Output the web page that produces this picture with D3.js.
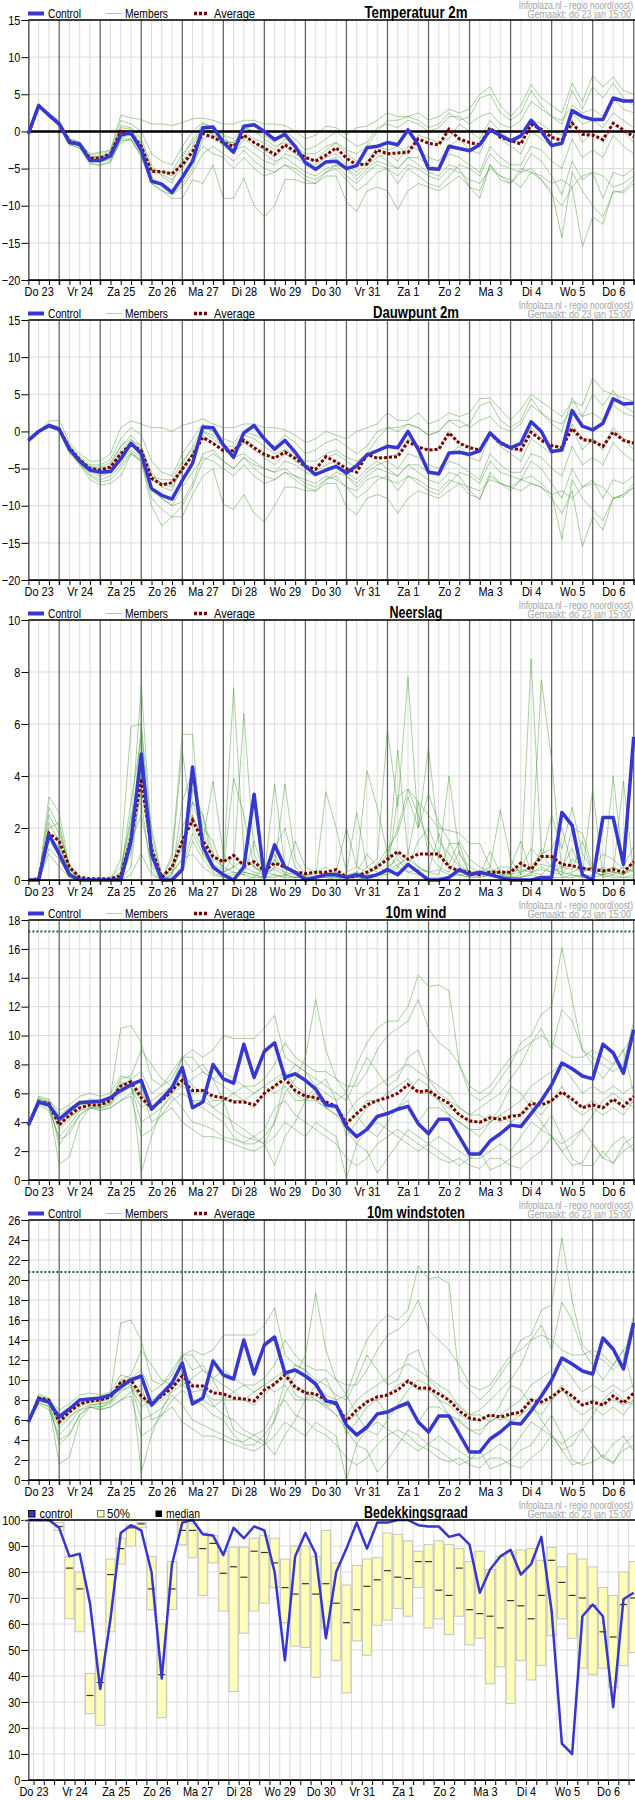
<!DOCTYPE html>
<html>
<head>
<meta charset="utf-8">
<script src="https://cdn.jsdelivr.net/npm/d3@7"></script>
<style>
  body { margin: 0; background: #fff; }
  svg { display: block; }
</style>
</head>
<body>
<div id="chart"></div>
<script>
// day labels (one per day, placed at noon)
var days = ["Do 23", "Vr 24", "Za 25", "Zo 26", "Ma 27", "Di 28", "Wo 29", "Do 30",
  "Vr 31", "Za 1", "Zo 2", "Ma 3", "Di 4", "Wo 5", "Do 6"];

// ---- Temperatuur 2m (6-hourly, first point Do 23 06:00) ----
var tempControl = [-0.3,3.5,2.2,1.0, -1.5,-1.7,-3.9,-3.9, -3.3,-0.5,-0.2,-2.5, -6.7,-7.1,-8.2,-6.2,
  -4.0,0.5,0.6,-1.5, -2.8,0.7,0.9,0.0, -1.1,-0.4,-2.0,-4.2, -5.1,-4.1,-4.0,-5.0,
  -4.6,-2.2,-2.0,-1.5, -1.8,0.2,-1.8,-5.0, -5.1,-2.0,-2.3,-2.6, -1.8,0.2,-0.5,-1.3,
  -0.6,1.5,0.0,-1.9, -1.6,2.8,2.0,1.6, 1.6,4.5,4.1,4.1];
var tempAverage = [-0.3,3.4,2.2,1.0, -1.3,-1.8,-3.6,-3.6, -3.0,0.0,-0.3,-2.0, -5.4,-5.4,-5.7,-4.5,
  -2.7,-0.3,-0.8,-1.5, -2.0,-0.5,-1.5,-2.2, -3.1,-1.8,-2.7,-3.5, -4.0,-3.2,-2.2,-3.6,
  -4.5,-4.4,-2.5,-3.0, -2.9,-2.8,-1.0,-1.6, -1.8,0.3,-1.0,-1.5, -1.8,0.5,-0.8,-1.2,
  -1.7,0.9,0.3,-0.8, -1.2,1.1,-0.4,-0.5, -1.1,1.1,0.2,-0.7];
var tempMembers = [
  [-0.3,3.5,2.0,1.2, -1.2,-2.0,-3.8,-4.2, -3.5,-0.8,-0.5,-2.5, -6.0,-7.5,-8.5,-7.0, -5.0,-1.0,-0.5,-2.0, -3.0,-1.0,-2.0,-3.0, -4.0,-3.5,-4.5,-5.5, -6.0,-5.0,-4.5,-6.0, -7.0,-5.5,-4.5,-5.0, -6.0,-4.5,-5.0,-6.0, -6.5,-5.0,-5.5,-6.5, -7.0,-5.0,-6.0,-6.5, -7.5,-5.5,-6.5,-8.5, -10.0,-7.5,-15.5,-11.5, -12.5,-8.0,-8.3,-7.0],
  [-0.3,3.4,2.3,1.0, -1.5,-1.6,-3.5,-3.3, -2.8,0.5,0.3,-1.5, -5.0,-5.5,-6.0,-4.0, -2.0,0.5,0.0,-1.0, -2.0,-0.5,-1.5,-2.5, -3.5,-2.0,-3.0,-4.0, -4.5,-3.5,-3.0,-4.5, -5.5,-4.0,-3.0,-4.0, -5.0,-3.5,-4.5,-5.5, -6.0,-4.5,-5.0,-7.5, -9.0,-4.5,-6.5,-7.0, -5.5,-5.0,-6.5,-8.0, -14.3,-5.5,-8.0,-10.0, -11.5,-8.2,-8.0,-6.5],
  [-0.3,3.6,2.5,1.5, -1.0,-1.5,-3.0,-2.8, -2.5,2.2,1.8,1.6, 1.0,1.0,0.8,1.2, 1.7,1.8,1.5,1.0, 1.0,1.5,1.5,1.0, 1.0,0.8,0.0,-1.0, -0.5,0.7,0.5,-0.5, 0.5,0.7,1.5,2.5, 2.0,2.0,2.5,1.5, 2.0,3.0,2.5,3.0, 5.0,6.0,3.5,2.0, 3.5,6.3,4.5,3.5, 2.5,6.5,4.0,7.5, 6.0,7.3,5.5,5.0],
  [-0.3,3.5,2.2,1.1, -1.8,-2.2,-4.2,-4.5, -4.0,-1.0,-1.0,-3.5, -7.0,-8.0,-9.0,-9.0, -6.5,-7.0,-4.5,-9.0, -9.0,-6.3,-10.0,-11.5, -10.0,-6.5,-6.5,-7.0, -7.0,-6.0,-6.0,-9.5, -10.8,-8.0,-7.5,-8.0, -10.5,-8.0,-7.0,-7.5, -8.0,-7.0,-6.0,-7.5, -8.0,-4.5,-6.0,-7.0, -5.0,-5.5,-6.0,-7.0, -6.5,-7.5,-6.0,-5.5, -6.0,-7.5,-7.0,-6.0],
  [-0.3,3.4,2.1,0.8, -1.4,-1.9,-3.7,-3.8, -3.2,-0.2,-0.5,-2.2, -5.5,-5.8,-6.5,-5.0, -3.0,0.0,-0.3,-1.2, -1.5,0.0,-1.0,-1.5, -2.5,-1.0,-2.0,-3.5, -4.0,-2.5,-1.5,-3.0, -4.0,-4.5,-2.0,-2.5, -2.0,-3.0,-0.5,-1.0, -1.5,-1.0,1.0,0.0, -1.0,1.5,0.0,-1.0, -1.5,1.5,1.0,0.0, -0.5,2.5,1.0,1.5, 0.5,2.5,1.5,0.5],
  [-0.3,3.5,2.4,1.3, -1.0,-1.4,-3.2,-3.0, -2.6,1.5,1.0,0.0, -3.0,-4.0,-4.5,-2.0, 0.0,1.2,0.5,-0.5, -1.0,0.5,0.0,-0.5, -1.5,0.0,-1.0,-2.5, -2.0,-1.0,0.0,-1.0, -2.0,-1.5,0.5,1.0, 0.5,1.5,1.0,0.0, 0.5,2.0,2.0,1.0, 2.0,2.5,1.0,0.5, 1.5,4.0,3.0,2.0, 1.5,3.5,2.5,3.0, 2.0,4.5,3.0,2.5],
  [-0.3,3.5,2.0,0.9, -1.6,-2.0,-4.0,-4.0, -3.8,-1.5,-1.0,-3.0, -6.5,-7.0,-8.0,-6.0, -4.0,-2.0,-3.0,-3.5, -5.0,-3.5,-5.0,-6.0, -5.5,-4.5,-5.5,-6.5, -7.0,-5.5,-5.0,-6.5, -8.0,-7.0,-5.5,-5.0, -7.0,-5.0,-6.0,-7.0, -7.5,-6.0,-4.5,-5.0, -6.0,-3.0,-4.5,-5.0, -5.5,-3.0,-4.0,-6.0, -8.5,-4.0,-6.5,-5.5, -9.0,-5.5,-6.0,-5.0],
  [-0.3,3.5,2.2,1.0, -1.3,-1.7,-3.6,-3.5, -3.0,0.8,0.5,-1.0, -4.5,-6.0,-7.0,-3.5, -1.0,1.0,0.5,-0.5, -2.5,-2.0,-3.0,-4.0, -4.5,-3.0,-3.5,-4.5, -5.0,-4.0,-3.5,-5.0, -6.0,-4.5,-3.5,-3.0, -4.0,-2.0,-2.5,-3.5, -4.0,-2.0,-1.0,-2.5, -3.0,0.5,-1.0,-2.0, -3.0,0.0,-1.0,-2.0, -1.0,1.5,-1.5,0.0, -1.5,1.0,0.0,-1.5],
  [-0.3,3.6,2.3,1.2, -1.2,-1.6,-3.4,-3.4, -2.9,0.2,0.0,-1.8, -5.0,-5.5,-5.5,-3.0, -1.5,0.5,-0.5,-1.5, -1.5,0.5,0.0,-1.0, -2.0,-1.5,-2.0,-3.0, -3.0,-2.0,-1.5,-2.5, -3.0,-2.0,0.0,1.5, 1.5,2.0,1.5,0.5, 1.0,2.5,1.5,2.0, 4.5,5.0,2.5,1.5, 2.5,5.5,3.5,2.0, 1.0,5.5,3.0,6.0, 4.5,6.5,4.5,3.5],
  [-0.3,3.4,1.9,0.7, -1.7,-2.3,-4.4,-4.6, -4.2,-1.2,-1.2,-3.2, -7.0,-8.0,-8.5,-7.5, -5.5,-3.0,-2.0,-3.0, -4.0,-2.5,-4.0,-5.0, -5.5,-4.5,-5.0,-6.0, -6.5,-5.5,-4.5,-5.0, -6.5,-5.0,-4.0,-4.5, -5.0,-3.5,-3.5,-4.5, -5.0,-3.0,-3.5,-4.5, -5.5,-2.0,-3.5,-4.5, -4.5,-2.0,-2.5,-4.0, -5.0,-1.0,-3.5,-2.5, -3.5,-0.5,-2.0,-3.0]
];

// ---- Dauwpunt 2m ----
var dewControl = [-1.2,0.0,0.8,0.3, -2.4,-4.0,-5.2,-5.5, -5.4,-3.7,-1.6,-3.0, -7.7,-8.6,-9.1,-6.6,
  -4.3,0.6,0.5,-1.8, -3.5,-0.2,0.8,-1.0, -2.4,-1.2,-2.8,-4.7, -5.8,-5.2,-4.7,-5.6,
  -4.6,-3.2,-2.6,-2.0, -2.2,0.0,-2.4,-5.5, -5.7,-2.9,-2.8,-3.1, -2.6,-0.2,-1.5,-2.2,
  -1.6,1.3,0.0,-2.7, -2.5,2.8,0.7,0.2, 1.1,4.4,3.7,3.8];
var dewAverage = [-1.2,0.0,0.8,0.3, -2.2,-3.8,-5.0,-5.2, -4.8,-3.0,-1.7,-2.6, -6.3,-7.2,-6.9,-5.1,
  -3.2,-0.8,-1.6,-2.6, -2.6,-1.2,-2.2,-3.1, -3.6,-2.8,-3.6,-4.7, -5.1,-3.4,-4.1,-5.0,
  -5.5,-3.1,-3.6,-3.5, -3.4,-1.4,-2.1,-2.5, -2.4,-0.2,-1.6,-2.2, -2.5,-0.2,-1.6,-2.2,
  -2.5,-0.1,-1.2,-1.9, -2.2,0.4,-1.1,-1.3, -2.0,-0.1,-1.2,-1.6];
var dewMembers = [
  [-1.2,0,0.6,0.2, -2.5,-4.2,-5.5,-6.0, -5.5,-4.0,-2.5,-3.5, -7.5,-9.0,-10.0,-9.5, -7.0,-3.0,-2.5,-4.0, -5.0,-3.5,-4.5,-5.0, -5.5,-5.0,-6.0,-6.5, -7.0,-6.0,-6.5,-7.5, -8.0,-6.5,-6.0,-6.5, -7.0,-6.0,-6.5,-7.5, -8.0,-6.5,-7.0,-7.5, -8.0,-6.5,-7.0,-7.5, -8.0,-7.0,-7.5,-9.0, -11.0,-8.0,-15.5,-11.5, -13.3,-9.0,-8.8,-7.5],
  [-1.2,0,0.9,0.5, -2.0,-3.6,-4.8,-5.0, -4.5,-2.0,-1.0,-2.5, -6.0,-7.0,-7.5,-5.0, -3.0,0.0,-0.5,-2.0, -3.0,-1.5,-2.5,-3.5, -4.5,-3.0,-4.0,-5.0, -5.5,-4.5,-4.0,-5.5, -6.5,-5.0,-4.0,-5.0, -6.0,-4.5,-5.5,-6.5, -7.0,-5.5,-6.0,-8.0, -9.2,-5.5,-7.0,-7.5, -6.5,-6.0,-7.0,-8.5, -14.5,-6.5,-9.0,-10.5, -12.0,-9.0,-8.5,-7.0],
  [-1.2,0,1.4,1.5, -1.5,-3.0,-4.0,-4.0, -3.0,0.5,1.4,1.0, 0.5,0.5,0.0,0.8, 1.2,1.7,1.0,0.5, 0.5,1.0,1.0,0.5, 0.5,0.2,-0.5,-1.5, -1.0,0.0,-0.5,-1.0, 0.0,0.5,1.0,2.5, 1.5,1.5,2.5,1.0, 1.5,2.5,2.0,2.5, 4.4,4.5,3.0,1.5, 3.0,5.0,4.0,3.0, 2.0,4.0,3.5,7.2, 5.5,5.0,4.5,4.0],
  [-1.2,0,0.5,0.0, -3.0,-4.5,-6.5,-7.2, -7.0,-6.0,-3.0,-4.0, -10.0,-12.7,-11.5,-11.5, -8.5,-6.0,-5.0,-9.8, -10.5,-8.5,-11.0,-12.2, -10.0,-7.5,-7.5,-8.0, -8.0,-7.0,-7.0,-10.2, -11.2,-9.0,-8.5,-9.0, -11.0,-9.0,-8.0,-8.5, -9.0,-8.0,-7.0,-8.5, -9.0,-6.0,-7.0,-8.0, -6.5,-7.0,-7.5,-8.5, -8.0,-9.0,-7.5,-7.0, -7.5,-9.0,-8.5,-7.5],
  [-1.2,0,0.8,0.3, -2.2,-3.8,-5.0,-5.2, -4.8,-3.0,-1.5,-2.6, -6.5,-7.0,-7.0,-5.0, -3.0,-0.5,-1.5,-2.5, -2.5,-1.0,-2.0,-3.0, -3.5,-2.5,-3.5,-4.5, -5.0,-3.5,-3.0,-4.0, -5.0,-3.0,-3.5,-3.5, -3.0,-1.0,-2.0,-2.5, -2.5,0.0,-1.5,-2.0, -2.5,0.0,-1.5,-2.5, -2.5,0.5,-1.0,-2.0, -2.0,1.0,-1.0,-1.0, -2.0,0.5,-1.0,-1.5],
  [-1.2,0,1.0,0.6, -1.8,-3.4,-4.5,-4.5, -3.8,-1.0,0.5,-0.5, -4.0,-5.5,-6.0,-3.0, -1.0,1.0,0.0,-1.0, -1.5,0.0,-0.5,-1.0, -2.0,-0.5,-1.5,-3.0, -2.5,-1.5,-1.0,-2.0, -3.0,-2.0,0.0,0.5, 0.0,1.0,0.5,-0.5, 0.0,1.5,1.5,0.5, 1.5,2.0,0.5,0.0, 1.0,3.5,2.5,1.5, 1.0,3.0,2.0,2.5, 1.5,3.5,2.5,2.0],
  [-1.2,0,0.6,0.1, -2.6,-4.3,-5.8,-6.5, -6.0,-4.5,-2.8,-3.8, -8.0,-9.0,-10.0,-7.5, -5.5,-3.5,-4.0,-5.0, -6.0,-4.5,-6.0,-7.0, -6.5,-5.5,-6.5,-7.5, -8.0,-6.5,-6.0,-7.5, -9.0,-8.0,-6.5,-6.0, -8.0,-6.0,-7.0,-8.0, -8.5,-7.0,-5.5,-6.0, -7.0,-4.0,-5.5,-6.0, -6.5,-4.0,-5.0,-7.0, -9.0,-5.0,-7.5,-6.5, -9.0,-6.5,-7.0,-6.0],
  [-1.2,0,0.7,0.3, -2.3,-3.9,-5.1,-5.5, -5.0,-2.5,-1.2,-2.0, -5.5,-7.5,-8.0,-4.5, -2.0,0.5,0.0,-1.5, -3.5,-3.0,-4.0,-5.0, -5.5,-4.0,-4.5,-5.5, -6.0,-5.0,-4.5,-6.0, -7.0,-5.5,-4.5,-4.0, -5.0,-3.0,-3.5,-4.5, -5.0,-3.0,-2.0,-3.5, -4.0,-0.5,-2.0,-3.0, -4.0,-1.0,-2.0,-3.0, -2.0,0.5,-2.5,-1.0, -2.5,0.0,-1.0,-2.5],
  [-1.2,0,0.9,0.4, -2.1,-3.7,-4.7,-4.8, -4.2,-2.0,-0.5,-2.0, -6.0,-6.5,-6.5,-4.0, -2.5,0.0,-1.0,-2.0, -2.0,-0.5,-1.0,-2.0, -3.0,-2.5,-3.0,-4.0, -4.0,-3.0,-2.5,-3.5, -4.0,-3.0,-1.0,0.5, 0.5,1.0,0.5,-0.5, 0.0,1.5,0.5,1.0, 3.5,4.0,1.5,0.5, 1.5,4.5,2.5,1.0, 0.0,4.5,2.0,5.0, 3.5,5.5,3.5,2.5],
  [-1.2,0,0.6,0.1, -2.7,-4.4,-6.0,-6.8, -6.5,-5.0,-3.0,-4.0, -9.0,-10.5,-11.5,-10.0, -7.5,-4.0,-3.0,-4.0, -5.0,-3.5,-5.0,-6.0, -6.5,-5.5,-6.0,-7.0, -7.5,-6.5,-5.5,-6.0, -7.5,-6.0,-5.0,-5.5, -6.0,-4.5,-4.5,-5.5, -6.0,-4.0,-4.5,-5.5, -6.5,-3.0,-4.5,-5.5, -5.5,-3.0,-3.5,-5.0, -6.0,-2.0,-4.5,-3.5, -4.5,-1.5,-3.0,-4.0]
];

// ---- Neerslag (mm per 6 h) ----
var rainControl = [0,0,1.75,1.0, 0.2,0,0,0, 0,0,1.5,4.85, 1.0,0,0,0.4, 4.35,1.3,0.5,0.2,
  0,0.5,3.3,0.1, 1.35,0.5,0.3,0, 0.1,0.2,0.2,0.1, 0.2,0.1,0.2,0.4, 0.2,0.6,0.3,0,
  0,0.1,0.4,0.2, 0.3,0.2,0.1,0, 0,0,0.1,0.1, 2.6,2.1,0.2,0, 2.4,2.4,0.6,5.5];
var rainAverage = [0,0.05,1.8,1.5, 0.5,0.1,0.05,0.05, 0.05,0.15,1.6,3.9, 1.2,0.1,0.5,1.5,
  2.3,1.5,0.9,0.7, 0.95,0.55,0.7,0.35, 0.65,0.5,0.3,0.25, 0.3,0.3,0.4,0.1,
  0.15,0.3,0.5,0.8, 1.1,0.8,1.0,1.0, 1.0,0.5,0.35,0.3, 0.2,0.3,0.3,0.3,
  0.65,0.4,0.9,0.9, 0.6,0.55,0.45,0.4, 0.35,0.4,0.3,0.7];
var rainMembers = [
  [0,0,3.2,2.6, 0.5,0,0,0, 0,0.2,2.0,7.5, 1.5,0,0.5,2.0, 3.0,2.5,1.0,0.5, 7.4,1.0,0.5,0.2, 0.5,0.3,0.2,0.1, 0.1,0.2,0.3,0.1, 0,0.2,0.5,1.0, 2.0,3.5,3.0,2.5, 2.0,1.9,1.8,1.4, 1.4,0.5,0.2,0.1, 0.1,0.3,0.5,0.3, 0.2,0.8,0.5,0.3, 0.2,0.3,0.2,0.5],
  [0,0,2.2,1.5, 0.3,0,0,0, 0,0.8,5.9,6.0, 0.5,0,1.0,5.6, 5.6,1.0,0.5,0.3, 0.5,6.4,1.0,0.2, 3.7,0.5,0.2,0.1, 0.1,0.3,0.2,0.1, 0.1,0.5,0.8,5.8, 2.8,7.8,2.0,5.1, 1.5,1.0,0.5,0.3, 0.2,0.3,0.1,0.1, 0.2,8.5,1.0,0.5, 0.2,0.3,0.5,0.4, 0.1,4.0,0.5,0.3],
  [0,0,1.2,0.8, 0.1,0,0,0, 0,0.1,1.0,3.5, 1.0,0,0.2,1.5, 2.5,1.5,3.8,1.0, 0.5,0.3,0.2,0.1, 0.5,3.7,0.8,0.2, 0.1,3.4,2.0,0.3, 0.5,4.2,2.8,1.0, 0.5,1.0,0.5,0.3, 1.8,0.5,0.2,0.1, 0.3,0.5,2.7,0.8, 0.2,0.5,7.7,4.6, 0.3,0.2,0.1,0.2, 0.5,0.3,3.8,0.2],
  [0,0,2.0,2.2, 0.4,0.1,0,0, 0,0.3,3.0,5.5, 0.8,0.1,0.8,5.0, 2.0,1.2,0.6,0.4, 3.9,2.5,0.5,0.3, 0.2,0.1,1.5,0.5, 0.3,0.2,0.1,0.3, 2.6,0.5,0.3,0.2, 3.2,3.5,2.5,1.5, 0.8,4.0,1.0,0.5, 0.3,0.2,0.4,0.2, 0.5,1.2,0.8,2.5, 1.2,2.8,1.0,0.4, 0.3,0.2,0.5,1.3],
  [0,0,1.5,1.0, 0.2,0,0,0, 0,0,0.5,4.0, 2.0,0.2,0.3,0.8, 3.5,2.5,0.5,0.2, 1.0,0.5,0.3,0.2, 0.8,0.4,0.3,0.2, 0.2,0.1,0.2,0.2, 0.3,0.2,0.2,0.5, 0.8,0.3,0.4,0.3, 0.2,1.4,1.4,0.2, 0.1,0.2,0.1,0.5, 1.5,0.3,0.2,0.6, 0.5,0.4,1.5,0.3, 0.2,0.5,0.2,0.8],
  [0,0,2.5,1.8, 0.6,0.1,0,0, 0,0,1.5,2.5, 0.6,0.1,0,0.3, 1.5,0.8,0.3,0.1, 0,0,0.1,0.5, 1.2,2.0,0.5,0.1, 0.1,0.1,0,0.2, 0,0.1,0,0.4, 5.0,1.0,3.0,1.0, 0.5,0.3,1.1,0.2, 0.2,1.1,0.3,0.1, 0.1,0.2,1.2,0.8, 0.1,0.1,0.2,3.5, 0.1,0.2,0.1,0.2],
  [0,0,1.0,0.5, 0.1,0,0,0, 0,0,0.2,1.0, 0.2,0,0.3,0.8, 1.0,0.5,0.2,0.1, 0.2,0.3,0.2,0.1, 0.1,0.2,0.1,0.1, 0,0,0.1,0, 0,0.1,0.2,0.2, 0.5,0.3,0.2,0.1, 0.1,0.1,0.2,0.1, 0.1,0.2,0.1,0.1, 0.1,0.2,0.1,0.1, 0.1,0.2,0.1,0.1, 0.2,0.1,0.1,0.1],
  [0,0,1.8,1.2, 0.3,0,0,0, 0,0.3,2.5,3.0, 0.3,0,0.5,1.2, 3.0,1.8,0.8,0.5, 0.3,0.2,1.5,0.2, 1.0,0.2,0.1,0.2, 0.3,0.5,0.2,0.1, 0.3,1.0,0.5,0.3, 1.0,0.5,1.5,2.0, 1.0,0.6,1.5,0.8, 0.5,0.3,0.5,0.5, 0.3,0.5,1.0,1.2, 2.0,0.5,0.3,0.5, 1.0,0.8,0.4,0.6],
  [0,0,2.8,2.0, 0.4,0,0,0, 0.1,0.5,2.2,4.5, 1.2,0,0.2,3.0, 4.2,2.0,1.5,0.3, 0.5,0.8,0.5,0.3, 0.4,0.2,0.3,0.1, 0.1,0.2,0.3,2.0, 0.5,0.3,0.6,1.2, 1.8,3.2,2.0,3.3, 2.2,1.5,0.6,0.3, 0.3,0.2,0.3,0.3, 0.4,0.3,0.4,0.3, 0.5,1.2,0.3,0.5, 0.4,0.3,0.2,0.4],
  [0,0,1.6,1.3, 0.3,0,0,0, 0,0.1,1.2,6.0, 1.8,0.1,0.1,0.5, 1.8,1.0,0.4,0.2, 0.3,0.2,0.1,0.1, 0.2,0.1,0.1,0.1, 0.1,0.1,0.1,0.1, 0.1,0.1,0.2,0.3, 0.6,0.8,0.5,0.3, 0.4,0.2,0.2,0.2, 0.2,0.4,0.2,0.2, 0.3,0.5,0.6,0.5, 0.3,2.0,1.8,0.5, 0.3,0.5,0.3,0.4]
];

// ---- 10m wind (m/s) ----
var windControl = [3.8,5.4,5.2,4.2, 4.8,5.35,5.4,5.45, 5.7,6.2,6.6,6.9, 4.9,5.6,6.4,7.8,
  5.0,5.4,8.0,7.0, 6.7,9.4,7.1,8.9, 9.5,7.1,7.35,6.9, 6.3,5.2,5.1,3.7,
  3.0,3.5,4.4,4.6, 4.9,5.1,3.9,3.2, 4.2,4.2,3.0,1.8, 1.8,2.7,3.2,3.8,
  3.7,4.6,5.5,6.6, 8.1,7.7,7.2,7.0, 9.4,8.8,7.4,10.4];
var windAverage = [3.8,5.4,5.3,3.8, 4.5,5.0,5.2,5.2, 5.5,6.5,6.8,5.7, 5.0,5.5,6.2,6.9,
  6.2,6.2,5.8,5.7, 5.4,5.4,5.2,6.0, 6.5,7.0,6.2,5.8, 5.7,5.4,5.1,3.9,
  4.6,5.2,5.5,5.7, 6.0,6.6,6.1,6.2, 5.7,5.3,4.5,4.1, 4.0,4.3,4.2,4.4,
  4.5,5.3,5.2,5.5, 6.1,5.6,5.0,5.2, 5.0,5.6,5.1,5.8];
var windMembers = [
  [3.8,5.6,5.4,2.4, 3.5,4.5,5.0,5.2, 5.3,6.5,7.0,0.5, 3.0,5.0,6.0,7.5, 6.5,6.0,5.0,4.5, 4.0,3.5,3.0,2.5, 1.0,3.0,4.0,5.5, 6.0,5.0,4.5,3.5, 2.5,2.0,0.5,1.5, 2.5,3.5,3.0,2.5, 2.0,1.5,1.0,1.5, 2.0,0.7,1.0,1.5, 2.0,2.5,3.5,4.5, 3.0,1.5,1.0,1.0, 2.0,1.1,2.5,3.0],
  [3.8,5.8,5.6,4.5, 5.0,5.5,5.5,5.5, 5.8,10.5,10.7,9.5, 7.0,6.5,7.0,8.5, 9.0,8.5,9.0,10.0, 9.8,9.8,9.8,10.5, 11.4,8.5,8.0,7.5, 6.5,6.0,5.5,6.0, 8.0,9.5,10.5,11.0, 11.0,12.0,14.2,13.4, 13.5,13.1,8.0,6.0, 5.5,6.0,7.0,8.0, 9.5,10.0,11.5,12.0, 16.1,12.5,9.0,8.5, 8.0,7.5,8.0,11.0],
  [3.8,5.5,5.2,1.1, 1.6,4.0,5.0,4.8, 5.0,5.5,6.0,6.5, 4.0,4.5,5.5,6.0, 5.5,5.0,4.5,4.0, 3.0,2.5,2.5,3.0, 4.0,6.0,7.0,8.5, 12.5,9.0,7.0,6.0, 4.5,3.5,3.0,4.0, 5.0,6.0,7.0,6.5, 5.5,4.5,4.0,3.5, 3.0,4.0,5.0,6.5, 6.0,5.0,4.0,3.0, 2.0,2.5,3.5,4.5, 5.5,6.0,5.5,5.0],
  [3.8,5.3,5.0,3.5, 4.2,5.0,5.3,5.2, 5.5,7.0,7.2,9.0, 8.0,7.0,6.5,8.5, 7.5,8.0,7.0,5.5, 3.5,3.0,2.8,2.5, 4.0,7.0,8.0,7.5, 7.0,6.5,6.0,5.5, 7.0,8.5,7.5,6.5, 7.0,8.5,9.0,7.0, 6.0,5.5,5.0,4.5, 5.0,5.5,6.0,7.0, 8.0,9.5,10.5,9.0, 11.8,11.0,9.0,8.0, 7.0,8.0,9.0,6.0],
  [3.8,5.4,5.3,4.0, 4.6,5.2,5.4,5.3, 5.6,6.8,6.5,5.5, 5.0,5.8,6.5,6.5, 6.0,6.2,5.5,5.5, 5.5,5.5,5.0,6.0, 6.5,7.5,6.0,5.5, 5.5,5.0,5.0,4.0, 4.5,5.5,5.5,6.0, 6.5,7.0,6.0,6.0, 5.5,5.0,4.5,4.0, 4.0,4.5,4.0,4.5, 4.5,5.5,5.0,5.5, 6.0,5.5,5.0,5.5, 5.0,5.5,5.0,5.5],
  [3.8,5.2,4.8,3.0, 3.8,4.8,5.2,5.0, 5.2,6.0,6.5,4.0, 4.5,5.0,5.8,5.0, 4.0,3.8,3.5,3.0, 2.8,2.6,3.0,3.5, 5.0,5.5,4.5,4.0, 3.5,3.0,2.5,1.5, 1.0,1.5,2.5,3.0, 3.5,3.0,2.5,2.0, 1.5,1.2,1.5,1.0, 0.8,1.5,1.5,1.0, 0.8,1.5,2.0,3.0, 2.0,1.0,1.2,2.5, 1.5,1.2,2.0,2.5],
  [3.8,5.7,5.5,4.8, 5.2,5.8,6.0,5.8, 6.0,7.2,7.0,7.5, 6.0,6.5,7.5,8.5, 8.5,7.5,7.0,7.5, 7.0,6.5,6.5,7.0, 8.0,9.5,8.5,8.0, 7.5,7.5,7.0,6.5, 6.5,7.5,9.0,10.0, 10.5,11.0,12.5,10.5, 9.5,9.0,8.0,6.5, 6.0,6.5,7.5,8.5, 9.0,9.5,10.0,9.5, 9.0,8.5,8.5,9.0, 8.5,8.0,9.0,10.0],
  [3.8,5.5,5.3,3.8, 4.4,4.8,5.0,5.0, 5.3,6.2,6.4,5.0, 5.5,6.0,6.5,7.0, 5.5,5.5,5.0,5.5, 6.0,5.5,6.0,6.5, 6.0,6.5,5.5,5.5, 6.5,7.0,5.5,3.0, 4.0,5.0,5.5,4.5, 5.0,5.5,4.0,5.0, 5.0,4.5,4.0,3.5, 3.5,4.0,4.5,4.0, 4.5,5.0,4.5,5.5, 6.5,5.0,4.5,5.0, 4.5,5.0,4.5,5.5],
  [3.8,5.6,5.4,4.2, 4.8,5.2,5.6,5.5, 5.6,6.6,6.8,6.0, 5.0,5.5,6.0,6.5, 7.0,7.5,7.0,6.5, 6.0,6.5,6.0,6.5, 7.0,7.5,6.5,6.0, 5.5,5.0,4.5,4.5, 5.5,6.0,6.5,7.0, 7.5,8.0,7.5,7.0, 6.5,6.0,5.0,4.5, 4.5,4.0,4.5,5.0, 5.5,6.5,7.0,7.5, 8.0,7.0,6.0,6.5, 6.0,6.5,6.0,6.5],
  [3.8,5.3,5.1,2.8, 3.2,4.5,5.0,4.9, 5.0,5.5,5.8,3.0, 3.5,4.5,5.0,4.0, 3.5,3.0,3.0,2.8, 2.5,2.2,2.0,2.4, 3.0,4.0,3.5,3.0, 4.0,3.5,3.0,0.1, 2.5,3.5,4.0,3.5, 3.0,2.5,2.0,2.5, 3.0,2.5,2.0,1.5, 1.5,2.0,2.5,2.0, 3.0,4.0,3.5,3.0, 2.5,3.0,3.5,2.5, 1.5,2.5,3.0,2.0]
];

// ---- 10m windstoten (m/s) ----
var gustControl = [5.8,8.1,7.8,6.3, 7.1,8.0,8.1,8.2, 8.5,9.3,10.0,10.4, 7.5,8.6,9.7,11.7,
  7.6,8.2,11.9,10.5, 10.1,14.0,10.6,13.5, 14.3,10.7,11.0,10.4, 9.6,7.9,7.7,5.5,
  4.5,5.3,6.6,6.8, 7.3,7.7,5.8,4.8, 6.4,6.4,4.6,2.8, 2.8,4.1,4.8,5.7,
  5.6,6.9,8.4,10.0, 12.2,11.6,10.9,10.6, 14.2,13.1,11.1,15.7];
var gustAverage = [5.8,8.2,8.0,5.8, 6.8,7.6,7.9,8.0, 8.3,9.8,10.0,8.4, 7.6,8.4,9.2,10.4,
  9.4,9.4,8.7,8.6, 8.2,8.1,7.9,9.0, 9.6,10.5,9.3,8.7, 8.6,8.0,7.6,5.9,
  7.0,7.8,8.3,8.5, 9.0,9.9,9.2,9.2, 8.6,8.0,6.9,6.2, 6.0,6.5,6.3,6.6,
  6.8,8.0,7.8,8.3, 9.1,8.4,7.5,7.8, 7.5,8.4,7.7,8.7];
var gustMembers = [
  [5.8,8.3,8.0,3.5, 4.5,6.5,7.5,7.6, 7.8,9.5,10.2,0.7, 4.5,7.0,9.0,11.0, 9.5,9.0,7.5,6.5, 6.0,5.0,4.5,3.8, 2.5,4.5,6.0,8.0, 8.5,7.5,6.5,5.0, 3.5,3.0,0.8,2.0, 3.5,5.0,4.5,3.5, 3.0,2.2,1.5,2.0, 3.0,1.1,1.5,2.0, 3.0,3.5,5.0,6.5, 4.5,2.0,1.5,1.8, 2.5,1.6,3.5,4.5],
  [5.8,8.6,8.2,6.5, 7.3,8.0,8.0,8.2, 8.5,15.7,16.0,14.0, 10.0,9.5,10.5,12.5, 13.0,12.5,13.0,14.5, 14.5,14.5,14.5,15.5, 17.2,12.5,11.5,11.0, 9.5,8.5,8.0,8.5, 11.5,14.0,15.5,16.5, 16.0,17.0,21.4,20.1, 20.3,19.6,10.0,9.0, 8.0,9.0,10.5,12.0, 14.0,14.5,17.0,17.5, 24.2,18.0,13.5,12.5, 12.0,11.0,12.0,16.5],
  [5.8,8.0,7.6,1.6, 2.3,6.0,7.3,7.0, 7.3,8.0,8.8,9.5, 6.0,6.5,8.0,9.0, 8.0,7.5,6.5,6.0, 4.5,3.5,3.5,4.5, 6.0,8.5,10.5,12.5, 18.7,13.0,10.0,8.5, 6.5,5.0,4.5,6.0, 7.5,9.0,10.0,9.5, 8.0,6.5,6.0,5.0, 4.5,6.0,7.5,9.5, 9.0,7.5,6.0,4.5, 3.0,3.5,5.0,6.5, 8.0,9.0,8.0,7.5],
  [5.8,7.8,7.3,5.2, 6.2,7.3,7.8,7.6, 8.0,10.0,10.5,13.0, 11.5,10.0,9.5,12.5, 11.0,11.5,10.0,8.0, 5.0,4.5,4.0,3.5, 6.0,10.0,11.5,11.0, 10.0,9.5,8.5,8.0, 10.0,12.5,11.0,9.5, 10.0,12.5,13.0,10.0, 9.0,8.0,7.5,6.5, 7.0,8.0,9.0,10.0, 11.5,14.0,15.5,13.0, 17.8,16.0,13.0,11.5, 10.0,11.5,13.0,9.0],
  [5.8,8.0,7.8,5.8, 6.7,7.6,7.9,7.8, 8.2,9.8,9.5,8.0, 7.5,8.5,9.5,9.5, 8.8,9.0,8.0,8.0, 8.0,8.0,7.5,8.5, 9.5,11.0,8.5,8.0, 8.0,7.5,7.5,6.0, 6.5,8.0,8.0,8.5, 9.5,10.0,9.0,9.0, 8.0,7.5,6.5,6.0, 6.0,6.5,6.0,6.5, 6.5,8.0,7.5,8.0, 9.0,8.0,7.5,8.0, 7.5,8.0,7.5,8.0],
  [5.8,7.6,7.0,4.5, 5.6,7.0,7.6,7.3, 7.6,8.8,9.5,6.0, 6.5,7.2,8.5,7.5, 6.0,5.5,5.0,4.5, 4.0,3.8,4.5,5.0, 7.0,8.0,6.5,6.0, 5.0,4.5,3.5,2.2, 1.5,2.2,3.5,4.5, 5.0,4.5,3.5,3.0, 2.2,1.8,2.2,1.5, 1.2,2.2,2.2,1.5, 1.2,2.2,3.0,4.5, 3.0,1.5,1.8,3.5, 2.2,1.8,3.0,3.5],
  [5.8,8.4,8.1,7.0, 7.6,8.5,8.7,8.5, 8.8,10.5,10.2,11.0, 8.8,9.5,11.0,12.5, 12.5,11.0,10.2,11.0, 10.2,9.5,9.5,10.2, 11.5,14.0,12.5,11.5, 11.0,11.0,10.0,9.5, 9.5,11.0,13.0,14.5, 15.0,16.0,18.0,15.0, 14.0,13.0,11.5,9.5, 9.0,9.5,11.0,12.5, 13.0,14.0,14.5,14.0, 13.0,12.5,12.5,13.0, 12.5,11.5,13.0,14.5],
  [5.8,8.0,7.7,5.5, 6.4,7.0,7.3,7.3, 7.8,9.0,9.3,7.3, 8.0,8.8,9.5,10.2, 8.0,8.0,7.3,8.0, 8.8,8.0,8.8,9.5, 8.8,9.5,8.0,8.0, 9.5,10.2,8.0,4.5, 5.8,7.3,8.0,6.5, 7.3,8.0,5.8,7.3, 7.3,6.5,5.8,5.0, 5.0,5.8,6.5,5.8, 6.5,7.3,6.5,8.0, 9.5,7.3,6.5,7.3, 6.5,7.3,6.5,8.0],
  [5.8,8.2,7.9,6.1, 7.0,7.6,8.2,8.0, 8.2,9.6,9.9,8.8, 7.3,8.0,8.8,9.5, 10.2,11.0,10.2,9.5, 8.8,9.5,8.8,9.5, 10.2,11.0,9.5,8.8, 8.0,7.3,6.5,6.5, 8.0,8.8,9.5,10.2, 11.0,11.6,11.0,10.2, 9.5,8.8,7.3,6.5, 6.5,5.8,6.5,7.3, 8.0,9.5,10.2,11.0, 11.6,10.2,8.8,9.5, 8.8,9.5,8.8,9.5],
  [5.8,7.7,7.4,4.0, 4.6,6.5,7.3,7.1, 7.3,8.0,8.4,4.4, 5.1,6.5,7.3,5.8, 5.1,4.4,4.4,4.0, 3.6,3.2,2.9,3.5, 4.4,5.8,5.1,4.4, 5.8,5.1,4.4,0.0, 3.6,5.1,5.8,5.1, 4.4,3.6,2.9,3.6, 4.4,3.6,2.9,2.2, 2.2,2.9,3.6,2.9, 4.4,5.8,5.1,4.4, 3.6,4.4,5.1,3.6, 2.2,3.6,4.4,2.9]
];

// ---- Bedekkingsgraad (%) ----
var cloudControl = [100,100,100,97, 86,87,68,35, 62,95,98,96, 80,39,83,99, 100,94.5,94,86.5,
  97,93,97.5,96, 80,46,86,95, 87,54.5,80,89, 99,89,99,99, 100,100,98,97.5,
  97.5,93.5,94.5,90.5, 72,81,86,88.5, 79,83,93.5,65, 14,10,63,67.5, 63,28,69.5,72];
var cloudLow = [99.5,99.5,99.5,96, 62,57,25.5,21, 57,83,90,97, 65.5,24,65.5,90.5, 85.5,71,83.5,65,
  34,56.5,65,68, 74,60.5,51.5,51, 39.5,58.5,46,33.5, 53.5,48,59.5,61.5, 66,63,74,58.5,
  62,56,63,52, 54.5,37,43.5,29.5, 46,38.5,44,55.5, 62,54.5,43,40.5, 43,35.5,44,49];
var cloudHigh = [100,100,100,99, 86,80,41,50, 85,93,98,99, 86,60,84,100, 98.5,95,94,88,
  89.5,89.5,93,94, 93,85,90,90, 86,96,83.5,75, 82.5,85,85.5,95, 94.5,92,88,90.5,
  92,90.5,89,84, 88,81,86,88, 88.5,89,84.5,89.5, 82,87,85,82, 74,71,80,84];
var cloudMedian = [99.8,99.8,99.8,97.5, 81.5,73.5,32.5,37.5, 79,89,97,98.5, 73.5,40.5,73.5,96,
  96,89,91,79.5, 82,78,88,87.5, 83.5,74,71.5,75.5, 71.5,75.5,68,60.5, 65.5,74.5,77,80.5,
  78,77.5,84,84, 73,71,81.5,65.5, 64,63,58.5,69, 67,62,71,84.5, 76,71,70,67, 57,55,67.5,70];

var svgWidth = 635;
var svgHeight = 1800;
var panelHeight = 300;
var plot = { left: 28.4, right: 633.7, top: 20, bottom: 280 };
var font = "'Liberation Sans Narrow', 'Arial Narrow', 'Liberation Sans', Arial, sans-serif";

var controlColor = "#3636d0";
var averageColor = "#7a0000";
var memberColor = "#3f9a2c";

var svg = d3.select("#chart")
  .append("svg")
  .attr("width", svgWidth)
  .attr("height", svgHeight)
  .style("font-family", font);

// one x scale for all panels, 6-hourly steps
var xScale = d3.scaleLinear()
  .domain([0, days.length * 4 - 1])
  .range([plot.left, plot.right]);

// squeeze axis texts to look like a narrow face
function narrow(sel, factor) {
  sel.each(function() {
    var w = this.getComputedTextLength();
    d3.select(this).attr("textLength", w * factor).attr("lengthAdjust", "spacingAndGlyphs");
  });
}

function header(g, title, titleWidth) {
  // source / run info, right aligned and horizontally squeezed
  g.append("text")
    .attr("transform", "translate(633, 9.3) scale(0.84, 1)")
    .attr("text-anchor", "end")
    .attr("font-size", 10).attr("fill", "#a3a3a3")
    .text("Infoplaza.nl - regio noord(oost)");
  g.append("text")
    .attr("transform", "translate(631, 18) scale(0.9, 1)")
    .attr("text-anchor", "end")
    .attr("font-size", 10).attr("fill", "#a3a3a3")
    .text("Gemaakt: do 23 jan 15:00");
  g.append("text")
    .attr("x", 416 - titleWidth / 2).attr("y", 17.5)
    .attr("font-size", 16).attr("font-weight", "bold").attr("fill", "#000")
    .attr("textLength", titleWidth).attr("lengthAdjust", "spacingAndGlyphs")
    .text(title);
}

function lineLegend(g) {
  g.append("line").attr("x1", 28).attr("x2", 44).attr("y1", 13.5).attr("y2", 13.5)
    .attr("stroke", controlColor).attr("stroke-width", 4);
  g.append("text").attr("x", 48).attr("y", 17.5).attr("font-size", 13)
    .attr("textLength", 33).attr("lengthAdjust", "spacingAndGlyphs").text("Control");
  g.append("line").attr("x1", 106).attr("x2", 122).attr("y1", 13.5).attr("y2", 13.5)
    .attr("stroke", "#a9d69c").attr("stroke-width", 1);
  g.append("text").attr("x", 125).attr("y", 17.5).attr("font-size", 13)
    .attr("textLength", 43).attr("lengthAdjust", "spacingAndGlyphs").text("Members");
  g.append("line").attr("x1", 194).attr("x2", 209).attr("y1", 13.5).attr("y2", 13.5)
    .attr("stroke", averageColor).attr("stroke-width", 3.5).attr("stroke-dasharray", "3,2");
  g.append("text").attr("x", 214).attr("y", 17.5).attr("font-size", 13)
    .attr("textLength", 41).attr("lengthAdjust", "spacingAndGlyphs").text("Average");
}

function yAxisAndGrid(g, yScale, ticks) {
  g.append("g").selectAll("line").data(ticks).enter().append("line")
    .attr("x1", plot.left).attr("x2", svgWidth)
    .attr("y1", d => yScale(d)).attr("y2", d => yScale(d))
    .attr("stroke", "#dcdcdc").attr("stroke-width", 1);

  var axis = g.append("g")
    .attr("transform", `translate(${plot.left}, 0)`)
    .call(d3.axisLeft(yScale).tickValues(ticks).tickSize(7).tickSizeOuter(0).tickPadding(1));
  axis.attr("font-family", font).attr("font-size", 13);
  axis.selectAll("text").attr("fill", "#000");
  narrow(axis.selectAll("text"), 0.84);
  return axis;
}

function dayLabels(g, values) {
  var labels = g.append("g").attr("transform", `translate(0, ${plot.bottom})`)
    .call(d3.axisBottom(xScale).tickValues(values).tickSize(0).tickPadding(7)
      .tickFormat((d, i) => days[i]));
  labels.select(".domain").remove();
  labels.attr("font-family", font).attr("font-size", 13);
  labels.selectAll("text").attr("fill", "#000");
  narrow(labels.selectAll("text"), 0.84);
}

function frame(g) {
  g.append("line").attr("x1", plot.left).attr("x2", svgWidth)
    .attr("y1", plot.top).attr("y2", plot.top).attr("stroke", "#000").attr("stroke-width", 1.3);
  g.append("line").attr("x1", plot.left).attr("x2", svgWidth)
    .attr("y1", plot.bottom).attr("y2", plot.bottom).attr("stroke", "#000").attr("stroke-width", 1.3);
}

function drawLineChart(index, cfg) {
  var g = svg.append("g").attr("transform", `translate(0, ${index * panelHeight})`);

  var yScale = d3.scaleLinear().domain([cfg.min, cfg.max]).range([plot.bottom, plot.top]);
  var ticks = d3.range(cfg.min, cfg.max + cfg.step / 2, cfg.step);

  yAxisAndGrid(g, yScale, ticks);

  // vertical 6-hour grid; darker lines at midnight
  var steps = d3.range(1, days.length * 4);
  g.append("g").selectAll("line").data(steps.filter(d => d % 4 !== 3)).enter().append("line")
    .attr("x1", d => xScale(d)).attr("x2", d => xScale(d))
    .attr("y1", plot.top).attr("y2", plot.bottom)
    .attr("stroke", "#dcdcdc");
  g.append("g").selectAll("line").data(steps.filter(d => d % 4 === 3)).enter().append("line")
    .attr("x1", d => xScale(d)).attr("x2", d => xScale(d))
    .attr("y1", plot.top).attr("y2", plot.bottom + 5)
    .attr("stroke", "#666").attr("stroke-width", 1.3);

  if (cfg.threshold) {
    g.append("line")
      .attr("x1", plot.left).attr("x2", svgWidth)
      .attr("y1", yScale(cfg.threshold)).attr("y2", yScale(cfg.threshold))
      .attr("stroke", "#2d5c5c").attr("stroke-width", 2).attr("stroke-dasharray", "2,2");
  }

  var line = d3.line().x((d, i) => xScale(i)).y(d => yScale(d));

  g.append("g").selectAll("path").data(cfg.members).enter().append("path")
    .attr("d", line)
    .attr("fill", "none")
    .attr("stroke", memberColor)
    .attr("stroke-opacity", 0.45)
    .attr("stroke-width", 1);

  if (cfg.zeroLine) {
    g.append("line")
      .attr("x1", plot.left).attr("x2", svgWidth)
      .attr("y1", yScale(0)).attr("y2", yScale(0))
      .attr("stroke", "#000").attr("stroke-width", 2.5);
  }

  g.append("path").datum(cfg.average)
    .attr("d", line).attr("fill", "none")
    .attr("stroke", averageColor).attr("stroke-width", 3).attr("stroke-dasharray", "3,2");

  g.append("path").datum(cfg.control)
    .attr("d", line).attr("fill", "none")
    .attr("stroke", controlColor).attr("stroke-width", 3.5).attr("stroke-linejoin", "round");

  // bottom axis: 6-hour ticks and day labels at noon
  g.append("g").attr("transform", `translate(0, ${plot.bottom})`)
    .call(d3.axisBottom(xScale).tickValues(d3.range(0, days.length * 4)).tickSize(5).tickSizeOuter(0).tickFormat(""));
  dayLabels(g, d3.range(1, days.length * 4, 4));

  frame(g);
  lineLegend(g);
  header(g, cfg.title, cfg.titleWidth);
}

function drawCloudChart(index) {
  var g = svg.append("g").attr("transform", `translate(0, ${index * panelHeight})`);
  var yScale = d3.scaleLinear().domain([0, 100]).range([plot.bottom, plot.top]);
  var ticks = d3.range(0, 101, 10);

  yAxisAndGrid(g, yScale, ticks);

  // grid between the 6-hour slots
  var half = d3.range(0.5, days.length * 4 - 1, 1);
  g.append("g").selectAll("line").data(half).enter().append("line")
    .attr("x1", d => xScale(d)).attr("x2", d => xScale(d))
    .attr("y1", plot.top).attr("y2", plot.bottom)
    .attr("stroke", "#dcdcdc");

  var idx = d3.range(cloudControl.length);
  var bw = 9;
  g.append("g").selectAll("rect").data(idx).enter().append("rect")
    .attr("x", i => xScale(i) - bw / 2)
    .attr("width", bw)
    .attr("y", i => yScale(cloudHigh[i]))
    .attr("height", i => Math.max(0.5, yScale(cloudLow[i]) - yScale(cloudHigh[i])))
    .attr("fill", "#ffffb8").attr("stroke", "#c4c4c4").attr("stroke-width", 1);

  g.append("g").selectAll("line").data(idx).enter().append("line")
    .attr("x1", i => xScale(i) - 3.5).attr("x2", i => xScale(i) + 3.5)
    .attr("y1", i => yScale(cloudMedian[i])).attr("y2", i => yScale(cloudMedian[i]))
    .attr("stroke", "#333").attr("stroke-width", 1.2);

  var line = d3.line().x((d, i) => xScale(i)).y(d => yScale(d));
  g.append("path").datum(cloudControl)
    .attr("d", line).attr("fill", "none")
    .attr("stroke", controlColor).attr("stroke-width", 2.5).attr("stroke-linejoin", "round");

  g.append("g").attr("transform", `translate(0, ${plot.bottom})`)
    .call(d3.axisBottom(xScale).tickValues(half).tickSize(5).tickSizeOuter(0).tickFormat(""));
  dayLabels(g, d3.range(0.5, days.length * 4, 4));

  frame(g);

  // legend
  g.append("rect").attr("x", 28.5).attr("y", 10.5).attr("width", 6.5).attr("height", 6.5)
    .attr("fill", controlColor).attr("stroke", "#111");
  g.append("text").attr("x", 39.5).attr("y", 17.5).attr("font-size", 13)
    .attr("textLength", 33).attr("lengthAdjust", "spacingAndGlyphs").text("control");
  g.append("rect").attr("x", 97.5).attr("y", 10.5).attr("width", 6.5).attr("height", 6.5)
    .attr("fill", "#ffffb0").attr("stroke", "#777");
  g.append("text").attr("x", 107).attr("y", 17.5).attr("font-size", 13)
    .attr("textLength", 23).attr("lengthAdjust", "spacingAndGlyphs").text("50%");
  g.append("rect").attr("x", 155.5).attr("y", 10.5).attr("width", 6.5).attr("height", 6.5)
    .attr("fill", "#000");
  g.append("text").attr("x", 166).attr("y", 17.5).attr("font-size", 13)
    .attr("textLength", 34).attr("lengthAdjust", "spacingAndGlyphs").text("median");

  header(g, "Bedekkingsgraad", 104);
}

drawLineChart(0, { title: "Temperatuur 2m", titleWidth: 103, min: -20, max: 15, step: 5,
  control: tempControl, average: tempAverage, members: tempMembers, zeroLine: true });
drawLineChart(1, { title: "Dauwpunt 2m", titleWidth: 86, min: -20, max: 15, step: 5,
  control: dewControl, average: dewAverage, members: dewMembers });
drawLineChart(2, { title: "Neerslag", titleWidth: 53, min: 0, max: 10, step: 2,
  control: rainControl, average: rainAverage, members: rainMembers });
drawLineChart(3, { title: "10m wind", titleWidth: 61, min: 0, max: 18, step: 2,
  control: windControl, average: windAverage, members: windMembers, threshold: 17.2 });
drawLineChart(4, { title: "10m windstoten", titleWidth: 98, min: 0, max: 26, step: 2,
  control: gustControl, average: gustAverage, members: gustMembers, threshold: 20.8 });
drawCloudChart(5);
</script>
</body>
</html>
